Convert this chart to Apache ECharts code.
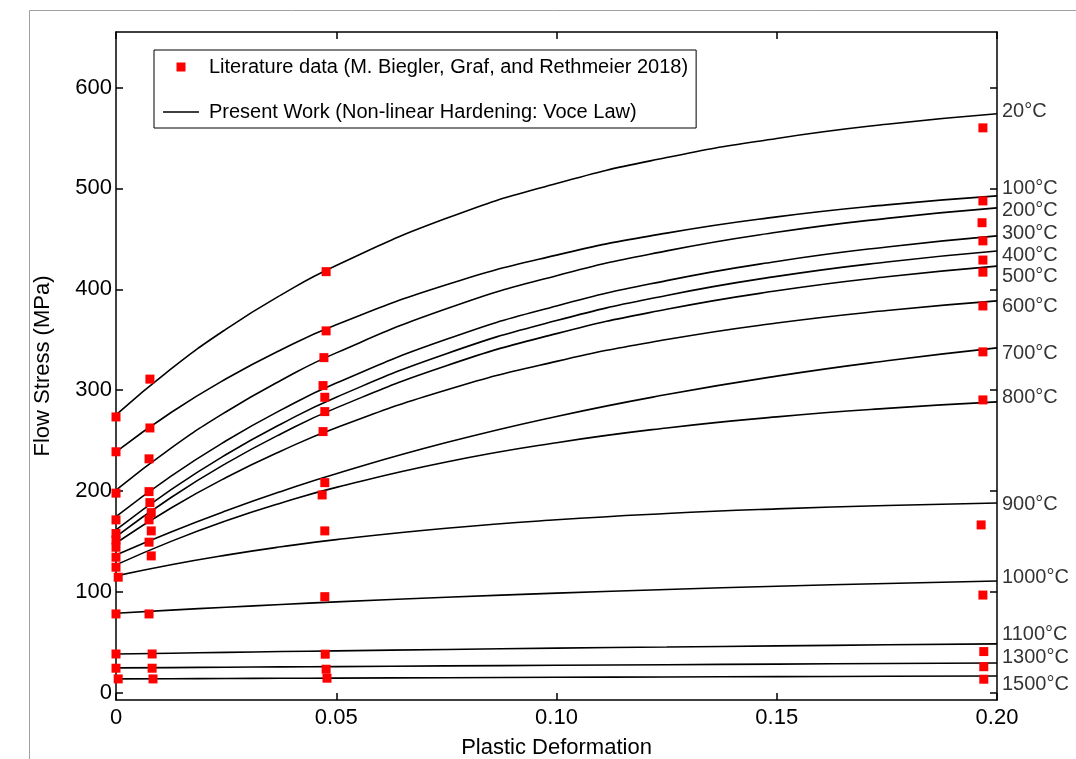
<!DOCTYPE html>
<html>
<head>
<meta charset="utf-8">
<script src="https://cdn.jsdelivr.net/npm/echarts@6/dist/echarts.min.js"></script>
<style>
html,body{margin:0;padding:0;background:#fff;}
#chart{width:1076px;height:759px;}
</style>
</head>
<body>
<div id="chart"></div>
<script>
// ---- data ----
const strain = [0, 0.0125, 0.025, 0.0375, 0.05, 0.075, 0.1, 0.125, 0.15, 0.175, 0.2];
const voce20   = [275.5, 321.2, 360.6, 394.5, 423.6, 470.3, 504.9, 530.6, 549.5, 563.6, 574.0];
const voce100  = [239.0, 277.9, 311.3, 340.1, 364.8, 404.5, 433.9, 455.7, 471.8, 483.7, 492.6];
const voce200  = [201.0, 242.6, 278.7, 309.9, 337.0, 380.7, 413.5, 438.1, 456.5, 470.3, 480.7];
const voce300  = [174.7, 214.9, 249.9, 280.5, 307.1, 350.5, 383.5, 408.6, 427.6, 442.0, 453.0];
const voce400  = [161.5, 201.5, 236.3, 266.6, 293.1, 336.2, 369.0, 393.9, 412.8, 427.1, 438.0];
const voce500  = [155.0, 193.7, 227.5, 256.9, 282.5, 324.3, 356.1, 380.2, 398.5, 412.4, 423.0];
const voce600  = [148.6, 183.3, 213.5, 239.8, 262.8, 300.2, 328.6, 350.2, 366.6, 379.0, 388.5];
const voce700  = [136.8, 159.6, 180.5, 199.7, 217.3, 248.1, 274.0, 295.7, 314.0, 329.2, 342.0];
const voce800  = [126.9, 150.2, 170.6, 188.3, 203.7, 228.9, 248.0, 262.6, 273.6, 282.0, 288.4];
const voce900  = [116.0, 127.1, 136.6, 144.8, 151.9, 163.2, 171.6, 177.8, 182.4, 185.8, 188.3];
const voce1000 = [79.0, 82.1, 84.9, 87.7, 90.2, 94.8, 98.9, 102.5, 105.7, 108.5, 111.0];
const voce1100 = [38.6, 39.4, 40.2, 41.0, 41.7, 43.1, 44.4, 45.5, 46.6, 47.7, 48.6];
const voce1300 = [24.8, 25.1, 25.5, 25.8, 26.1, 26.8, 27.4, 28.0, 28.6, 29.2, 29.7];
const voce1500 = [13.9, 14.1, 14.3, 14.5, 14.7, 15.1, 15.5, 15.8, 16.2, 16.5, 16.8];

// literature data (M. Biegler, Graf, and Rethmeier 2018), grouped by strain level
const litStrain = [
  0, 0, 0, 0, 0, 0, 0, 0, 0, 0.0005, 0, 0, 0, 0.0005,
  0.0077, 0.0077, 0.0075, 0.0075, 0.0077, 0.008, 0.0075, 0.008, 0.0075, 0.008, 0.0075, 0.0082, 0.0082, 0.0084,
  0.0477, 0.0477, 0.0472, 0.047, 0.0474, 0.0474, 0.047, 0.0474, 0.0468, 0.0474, 0.0474, 0.0475, 0.0477, 0.0479,
  0.1968, 0.1968, 0.1966, 0.1968, 0.1968, 0.1968, 0.1968, 0.1968, 0.1968, 0.1964, 0.1968, 0.197, 0.197, 0.197
];
const litStress = [
  273.5, 239.0, 198.0, 171.5, 158.0, 151.6, 144.4, 134.5, 124.6, 114.7, 78.3, 38.6, 24.5, 13.9,
  311.0, 262.6, 232.0, 199.5, 188.6, 178.7, 171.5, 160.6, 149.4, 135.8, 78.3, 38.6, 24.5, 13.9,
  417.5, 358.8, 332.3, 304.6, 293.0, 278.8, 259.0, 208.4, 196.2, 160.6, 95.4, 38.4, 23.5, 14.6,
  560.0, 487.6, 466.0, 448.0, 429.0, 417.0, 383.5, 338.0, 290.4, 166.5, 97.0, 41.0, 26.0, 13.6
];

const tempLabels = ['20°C','100°C','200°C','300°C','400°C','500°C','600°C','700°C','800°C','900°C','1000°C','1100°C','1300°C','1500°C'];
const tempLabelStress = [575.8, 499.5, 477.7, 454.9, 433.1, 412.3, 382.6, 336.0, 292.4, 186.3, 114.9, 57.5, 34.7, 7.9];

const yTicks = [0, 100, 200, 300, 400, 500, 600];
const LIT = 'Literature data (M. Biegler, Graf, and Rethmeier 2018)';
const PW = 'Present Work (Non-linear Hardening: Voce Law)';

// ---- chart ----
const curves = [voce20, voce100, voce200, voce300, voce400, voce500, voce600, voce700,
                voce800, voce900, voce1000, voce1100, voce1300, voce1500];
const FONT = '"Liberation Sans", Arial, Helvetica, sans-serif';

const series = [];
curves.forEach(function (c) {
  series.push({
    name: PW, type: 'line', smooth: 0.5, symbol: 'none', showSymbol: false,
    data: strain.map(function (x, i) { return [x, c[i]]; }),
    lineStyle: { color: '#000', width: 1.6 }, itemStyle: { color: '#000' },
    silent: true, z: 2, animation: false
  });
});
series.push({
  name: LIT, type: 'scatter', symbol: 'rect', symbolSize: 9, clip: false,
  data: litStrain.map(function (x, i) { return [x, litStress[i]]; }),
  itemStyle: { color: '#ff0000', opacity: 1 }, z: 5, animation: false
});
series.push({
  name: 'labels', type: 'scatter', symbolSize: 0, clip: false, silent: true,
  data: tempLabelStress.map(function (y, i) { return { value: [0.2, y], name: tempLabels[i] }; }),
  label: {
    show: true, position: 'right', distance: 5, formatter: function (p) { return p.name; },
    fontSize: 20, fontFamily: FONT, color: '#000'
  },
  animation: false
});

const axisLineStyle = { color: '#000', width: 1.5 };

const option = {
  animation: false,
  backgroundColor: '#fff',
  graphic: [{
    type: 'rect', shape: { x: 29.5, y: 10.5, width: 1200, height: 1000 },
    style: { fill: 'none', stroke: '#a0a0a0', lineWidth: 1 }, silent: true, z: -10
  }],
  legend: {
    data: [
      { name: LIT, icon: 'path://M0,0H10V10H0Z', itemStyle: { color: '#ff0000', opacity: 1 } },
      { name: PW, icon: 'path://M0,0H0.01V0.01H0Z M0,3.8H36V5.3H0Z M35.99,8.99H36V9H35.99Z', itemStyle: { color: '#000' } }
    ],
    orient: 'vertical', left: 154, top: 50, symbolKeepAspect: true,
    itemWidth: 36, itemHeight: 9, itemGap: 21, padding: [5, 8, 4, 9],
    borderColor: '#000', borderWidth: 1, selectedMode: false,
    textStyle: { fontSize: 20, lineHeight: 24, fontFamily: FONT, color: '#000', padding: [0, 0, 0, 5] }
  },
  grid: { left: 116, right: 79, top: 32, bottom: 59, containLabel: false, outerBoundsMode: 'none' },
  xAxis: [{
    type: 'value', min: 0, max: 0.2, interval: 0.05, position: 'bottom',
    name: 'Plastic Deformation', nameLocation: 'middle', nameGap: 37,
    nameTextStyle: { fontSize: 22, fontFamily: FONT, color: '#000' },
    axisLine: { show: true, onZero: false, lineStyle: axisLineStyle },
    axisTick: { show: true, inside: true, length: 7, lineStyle: axisLineStyle },
    axisLabel: { fontSize: 22, fontFamily: FONT, color: '#000', margin: 7,
      formatter: function (v) { return v === 0 ? '0' : v.toFixed(2); } },
    splitLine: { show: false }
  }, {
    type: 'value', min: 0, max: 0.2, interval: 0.05, position: 'top',
    axisLine: { show: true, onZero: false, lineStyle: axisLineStyle },
    axisTick: { show: true, inside: true, length: 7, lineStyle: axisLineStyle },
    axisLabel: { show: false }, splitLine: { show: false }
  }],
  yAxis: [{
    type: 'value', min: -7, max: 655, position: 'left',
    name: 'Flow Stress (MPa)', nameLocation: 'middle', nameGap: 62, nameRotate: 90,
    nameTextStyle: { fontSize: 22, fontFamily: FONT, color: '#000' },
    axisLine: { show: true, onZero: false, lineStyle: axisLineStyle },
    axisTick: { show: true, inside: true, length: 7, lineStyle: axisLineStyle, customValues: yTicks },
    axisLabel: { fontSize: 22, fontFamily: FONT, color: '#000', margin: 4, customValues: yTicks },
    splitLine: { show: false }
  }, {
    type: 'value', min: -7, max: 655, position: 'right',
    axisLine: { show: true, onZero: false, lineStyle: axisLineStyle },
    axisTick: { show: true, inside: true, length: 7, lineStyle: axisLineStyle, customValues: yTicks },
    axisLabel: { show: false, customValues: yTicks }, splitLine: { show: false }
  }],
  series: series
};

const chart = echarts.init(document.getElementById('chart'), null, { renderer: 'canvas' });
chart.setOption(option);
</script>
</body>
</html>
